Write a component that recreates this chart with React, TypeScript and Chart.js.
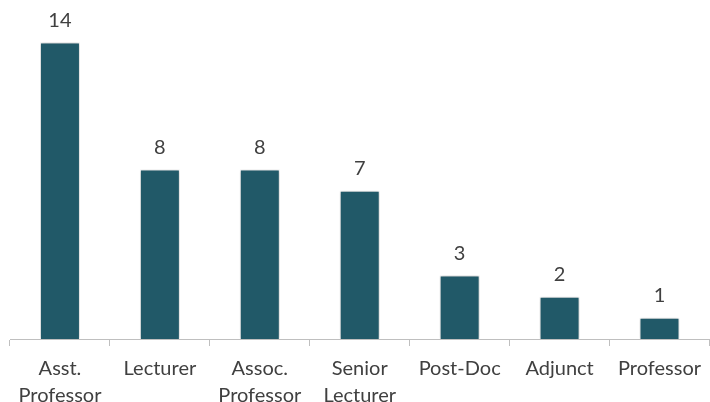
import React, { useEffect, useRef } from "react";
import { Chart, registerables } from "chart.js";

Chart.register(...registerables);

const categories: string[][] = [
  ["Asst.", "Professor"],
  ["Lecturer"],
  ["Assoc.", "Professor"],
  ["Senior", "Lecturer"],
  ["Post-Doc"],
  ["Adjunct"],
  ["Professor"],
];
const counts: number[] = [14, 8, 8, 7, 3, 2, 1];

const BAR_COLOR = "#215968";
const TEXT_COLOR = "#404040";
const FONT = "Lato, 'Open Sans', sans-serif";

const valueLabels = {
  id: "valueLabels",
  afterDatasetsDraw(chart: any) {
    const ctx = chart.ctx;
    const meta = chart.getDatasetMeta(0);
    ctx.save();
    ctx.font = `20px ${FONT}`;
    ctx.fillStyle = TEXT_COLOR;
    ctx.textAlign = "center";
    ctx.textBaseline = "bottom";
    meta.data.forEach((bar: any, i: number) => {
      ctx.fillText(String(counts[i]), bar.x, bar.y - 12);
    });
    ctx.restore();
  },
};

const barShadow = {
  id: "barShadow",
  beforeDatasetDraw(chart: any) {
    const ctx = chart.ctx;
    ctx.save();
    ctx.shadowColor = "rgba(0,0,0,0.28)";
    ctx.shadowBlur = 4;
    ctx.shadowOffsetX = 0;
    ctx.shadowOffsetY = 0;
  },
  afterDatasetDraw(chart: any) {
    chart.ctx.restore();
  },
};

export default function App() {
  const ref = useRef<HTMLCanvasElement | null>(null);
  useEffect(() => {
    if (!ref.current) return;
    const chart = new Chart(ref.current, {
      type: "bar",
      data: {
        labels: categories,
        datasets: [
          {
            data: counts,
            backgroundColor: BAR_COLOR,
            borderColor: "#ffffff",
            borderWidth: 1,
            barPercentage: 0.4,
            categoryPercentage: 1,
          },
        ],
      },
      options: {
        animation: false,
        responsive: false,
        maintainAspectRatio: false,
        layout: { padding: { left: 10, right: 0, top: 0, bottom: 0 } },
        plugins: {
          legend: { display: false },
          tooltip: { enabled: false },
          title: { display: false },
        },
        scales: {
          x: {
            offset: true,
            grid: {
              offset: true,
              drawOnChartArea: false,
              drawTicks: true,
              tickLength: 7,
              color: "#BFBFBF",
            },
            border: { display: true, color: "#BFBFBF", width: 1 },
            ticks: {
              color: TEXT_COLOR,
              font: { family: FONT, size: 20, lineHeight: 1.35 },
              padding: 9,
              maxRotation: 0,
              autoSkip: false,
            },
            afterFit(scale: any) {
              scale.height = 63;
            },
          },
          y: {
            display: false,
            min: 0,
            max: 16,
          },
        },
      },
      plugins: [barShadow, valueLabels],
    });
    return () => chart.destroy();
  }, []);
  return (
    <div style={{ position: "fixed", left: 0, top: 0, width: 710, height: 402, background: "#fff" }}>
      <canvas ref={ref} width={710} height={402} style={{ width: 710, height: 402 }} />
    </div>
  );
}
